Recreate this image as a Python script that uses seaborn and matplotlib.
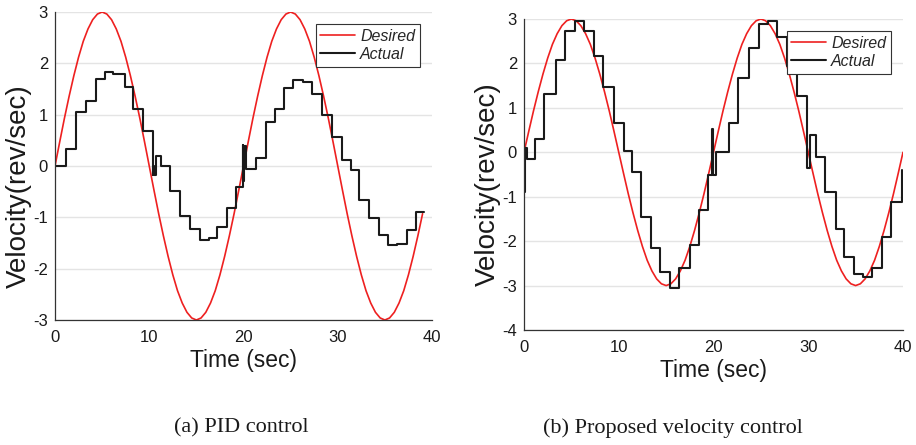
import numpy as np
import pandas as pd
import seaborn as sns
import matplotlib.pyplot as plt

# Desired velocity, every 0.5 s (same in both panels)
desired_t = [0.0, 0.5, 1.0, 1.5, 2.0, 2.5, 3.0, 3.5, 4.0, 4.5,
             5.0, 5.5, 6.0, 6.5, 7.0, 7.5, 8.0, 8.5, 9.0, 9.5,
             10.0, 10.5, 11.0, 11.5, 12.0, 12.5, 13.0, 13.5, 14.0, 14.5,
             15.0, 15.5, 16.0, 16.5, 17.0, 17.5, 18.0, 18.5, 19.0, 19.5,
             20.0, 20.5, 21.0, 21.5, 22.0, 22.5, 23.0, 23.5, 24.0, 24.5,
             25.0, 25.5, 26.0, 26.5, 27.0, 27.5, 28.0, 28.5, 29.0, 29.5,
             30.0, 30.5, 31.0, 31.5, 32.0, 32.5, 33.0, 33.5, 34.0, 34.5,
             35.0, 35.5, 36.0, 36.5, 37.0, 37.5, 38.0, 38.5, 39.0, 39.5,
             40.0]
desired_v = [0.0, 0.47, 0.93, 1.36, 1.76, 2.12, 2.43, 2.67, 2.85, 2.96,
             3.0, 2.96, 2.85, 2.67, 2.43, 2.12, 1.76, 1.36, 0.93, 0.47,
             0.0, -0.47, -0.93, -1.36, -1.76, -2.12, -2.43, -2.67, -2.85, -2.96,
             -3.0, -2.96, -2.85, -2.67, -2.43, -2.12, -1.76, -1.36, -0.93, -0.47,
             0.0, 0.47, 0.93, 1.36, 1.76, 2.12, 2.43, 2.67, 2.85, 2.96,
             3.0, 2.96, 2.85, 2.67, 2.43, 2.12, 1.76, 1.36, 0.93, 0.47,
             0.0, -0.47, -0.93, -1.36, -1.76, -2.12, -2.43, -2.67, -2.85, -2.96,
             -3.0, -2.96, -2.85, -2.67, -2.43, -2.12, -1.76, -1.36, -0.93, -0.47,
             0.0]

# (a) PID control - actual velocity, sample-and-hold steps
pid_t = [0, 1.18, 2.25, 3.32, 4.39, 5.27, 6.16, 7.41, 8.23, 9.37,
         10.35, 10.42, 10.5, 10.68, 11.23, 12.22, 13.29, 14.36, 15.36, 16.32,
         17.22, 18.29, 19.18, 19.9, 19.97, 20.05, 20.25, 21.32, 22.38, 23.35,
         24.35, 25.27, 26.3, 27.3, 28.37, 29.34, 30.41, 31.37, 32.3, 33.33,
         34.33, 35.33, 36.29, 37.36, 38.32, 39.14]
pid_v = [0, 0.34, 1.06, 1.27, 1.70, 1.84, 1.79, 1.53, 1.11, 0.69,
         -0.18, 0.0, -0.18, 0.19, 0.0, -0.49, -0.97, -1.22, -1.44, -1.40,
         -1.18, -0.81, -0.40, 0.40, -0.30, 0.38, -0.06, 0.16, 0.86, 1.12,
         1.51, 1.68, 1.64, 1.40, 0.99, 0.57, 0.12, -0.08, -0.66, -1.02,
         -1.35, -1.54, -1.52, -1.25, -0.89, -0.89]

# (b) Proposed velocity control - actual velocity
prop_t = [0, 0.1, 0.3, 1.13, 2.12, 3.36, 4.32, 5.38, 6.3, 7.43,
          8.32, 9.48, 10.51, 11.43, 12.39, 13.45, 14.4, 15.39, 16.35, 17.52,
          18.5, 19.46, 19.88, 19.93, 20.24, 21.6, 22.6, 23.7, 24.77, 25.7,
          26.65, 27.71, 28.77, 29.9, 30.2, 30.8, 31.8, 32.9, 33.8, 34.8,
          35.8, 36.7, 37.8, 38.75, 39.92]
prop_v = [-0.90, 0.10, -0.15, 0.29, 1.31, 2.07, 2.73, 2.96, 2.73, 2.17,
          1.47, 0.67, 0.03, -0.44, -1.46, -2.16, -2.70, -3.06, -2.61, -2.09,
          -1.31, -0.50, 0.53, -0.50, 0.0, 0.67, 1.68, 2.34, 2.88, 2.96,
          2.60, 1.95, 1.27, -0.35, 0.38, -0.10, -0.89, -1.73, -2.36, -2.75,
          -2.81, -2.60, -1.90, -1.13, -0.40]

desired = pd.DataFrame({"t": desired_t, "v": desired_v})
pid = pd.DataFrame({"t": pid_t, "v": pid_v})
prop = pd.DataFrame({"t": prop_t, "v": prop_v})

sns.set_theme(style="white")
plt.rcParams["font.family"] = ["Liberation Sans", "DejaVu Sans"]
plt.rcParams["axes.unicode_minus"] = False

W, H = 916, 445
fig = plt.figure(figsize=(W / 100, H / 100), dpi=100)
ax1 = fig.add_axes([55 / W, 1 - 320 / H, (432 - 55) / W, (320 - 12) / H])
ax2 = fig.add_axes([524 / W, 1 - 330 / H, (903 - 524) / W, (330 - 19) / H])


def panel(ax, des, act, ylim, ylab_y):
    sns.lineplot(data=des, x="t", y="v", ax=ax, color="#ee2020", lw=1.2,
                 label="Desired", estimator=None, sort=False)
    sns.lineplot(data=act, x="t", y="v", ax=ax, color="#1a1a1a", lw=1.5,
                 label="Actual", estimator=None, sort=False,
                 drawstyle="steps-post")
    ax.set_xlim(0, 40)
    ax.set_ylim(*ylim)
    ax.set_xticks([0, 10, 20, 30, 40])
    ax.set_yticks(range(ylim[0], ylim[1] + 1))
    ax.yaxis.grid(True, color="#e4e4e4", lw=1.0)
    ax.xaxis.grid(False)
    ax.set_axisbelow(True)
    for s in ["top", "right"]:
        ax.spines[s].set_visible(False)
    for s in ["left", "bottom"]:
        ax.spines[s].set_color("#333333")
        ax.spines[s].set_linewidth(0.9)
    ax.tick_params(direction="in", length=4, width=0.8, color="#333333",
                   labelsize=12, labelcolor="#1a1a1a")
    ax.tick_params(axis="x", pad=7)
    ax.tick_params(axis="y", pad=5)
    ax.set_xlabel("Time (sec)", fontsize=16.5, color="#1a1a1a")
    ax.set_ylabel("Velocity(rev/sec)", fontsize=20, color="#1a1a1a")
    ax.xaxis.set_label_coords(0.5, -0.094)
    ax.yaxis.set_label_coords(-0.062, ylab_y)
    leg = ax.legend(loc="upper right", prop={"style": "italic", "size": 11.5},
                    frameon=True, fancybox=False, edgecolor="#333333",
                    framealpha=1, borderaxespad=0.75, borderpad=0.3,
                    labelspacing=0.2, handlelength=2.2, handletextpad=0.3)
    leg.get_frame().set_linewidth(0.8)


panel(ax1, desired[desired["t"] <= 39.0], pid, (-3, 3), 0.435)
panel(ax2, desired, prop, (-4, 3), 0.47)

fig.text(241 / W, 1 - 428 / H, "(a) PID control", ha="center", va="center",
         family="Liberation Serif", fontsize=16, color="#1a1a1a")
fig.text(673 / W, 1 - 428 / H, "(b) Proposed velocity control", ha="center",
         va="center", family="Liberation Serif", fontsize=16, color="#1a1a1a")

fig.savefig("out.png", dpi=100)
